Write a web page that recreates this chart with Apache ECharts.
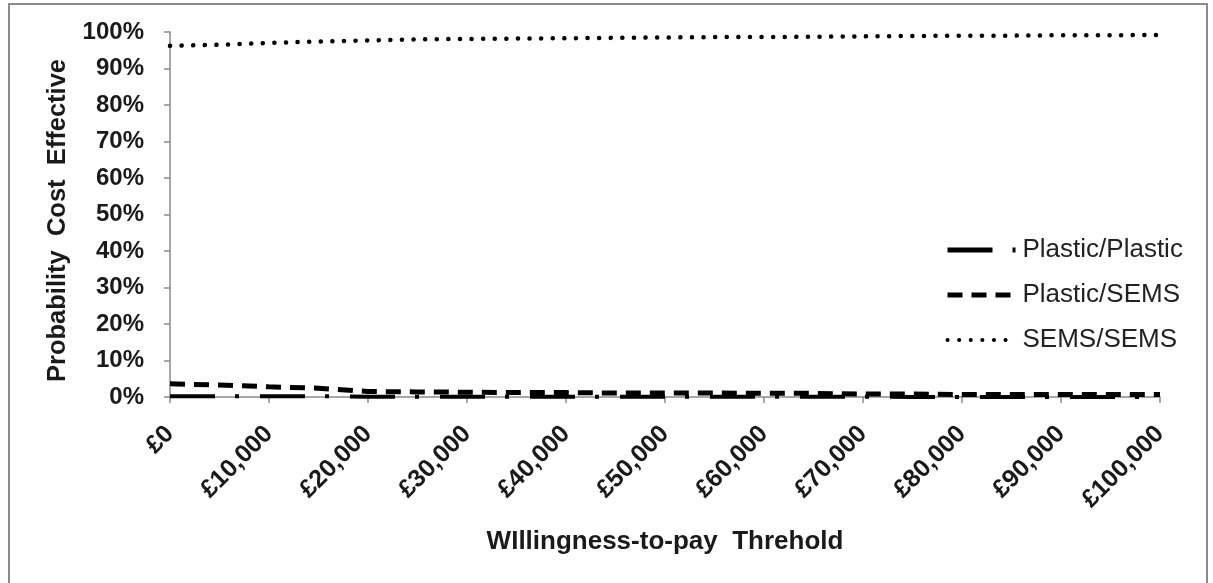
<!DOCTYPE html>
<html>
<head>
<meta charset="utf-8">
<script src="https://cdn.jsdelivr.net/npm/echarts@6/dist/echarts.min.js"></script>
<style>
html,body{margin:0;padding:0;background:#fff;}
#chart{width:1213px;height:583px;}
</style>
</head>
<body>
<div id="chart"></div>
<script>
const wtp = [0,5000,10000,15000,20000,25000,30000,35000,40000,45000,50000,55000,60000,65000,70000,75000,80000,85000,90000,95000,100000];
const plasticPlastic = [0.002,0.002,0.002,0.002,0.001,0.001,0.001,0.001,0.001,0.001,0.001,0.001,0.001,0.001,0.001,0.000,0.000,0.000,0.000,0.000,0.000];
const plasticSems = [0.036,0.033,0.028,0.024,0.015,0.014,0.013,0.012,0.012,0.011,0.011,0.011,0.010,0.010,0.008,0.008,0.007,0.007,0.007,0.007,0.007];
const semsSems = [0.962,0.965,0.970,0.974,0.977,0.980,0.981,0.982,0.983,0.984,0.985,0.986,0.986,0.987,0.988,0.989,0.990,0.990,0.991,0.991,0.992];
const seriesNames = ['Plastic/Plastic','Plastic/SEMS','SEMS/SEMS'];
const xTitle = 'WIllingness-to-pay  Threhold';
const yTitle = 'Probability  Cost  Effective';

const pair = (ys) => wtp.map((x, i) => [x, ys[i]]);

const styles = [
  { color: '#000', width: 4, type: [45, 20, 4, 21], cap: 'butt' },
  { color: '#000', width: 5, type: [15, 9], cap: 'butt' },
  { color: '#000', width: 4.5, type: [0.1, 11.5], cap: 'round' }
];

const chart = echarts.init(document.getElementById('chart'));
chart.setOption({
  animation: false,
  backgroundColor: '#ffffff',
  textStyle: { fontFamily: 'Liberation Sans, Arial, sans-serif' },
  graphic: [{
    type: 'rect',
    shape: { x: 9, y: 4, width: 1198, height: 620 },
    style: { fill: 'none', stroke: '#8a8a8a', lineWidth: 2 },
    silent: true
  }],
  grid: { left: 170, right: 53, top: 32, bottom: 186, containLabel: false },
  legend: {
    orient: 'vertical',
    left: 940,
    top: 232,
    itemWidth: 68,
    itemHeight: 24,
    itemGap: 19,
    itemStyle: { opacity: 0 },
    lineStyle: { width: 4.5 },
    textStyle: { fontSize: 26, color: '#222', fontFamily: 'Liberation Sans, Arial, sans-serif', padding: [0,0,0,2] },
    data: seriesNames.map((n, i) => ({ name: n, lineStyle: { width: i === 2 ? 4 : 5 } }))
  },
  xAxis: {
    type: 'value',
    min: 0, max: 100000, interval: 10000,
    name: xTitle,
    nameLocation: 'middle',
    nameGap: 132,
    nameTextStyle: { fontSize: 26, fontWeight: 'bold', color: '#1a1a1a' },
    axisLine: { show: true, lineStyle: { color: '#8a8a8a', width: 1.5 } },
    axisTick: { show: true, length: 6, lineStyle: { color: '#8a8a8a', width: 1.5 } },
    splitLine: { show: false },
    axisLabel: {
      rotate: 45,
      fontSize: 25,
      fontWeight: 'bold',
      color: '#1a1a1a',
      margin: 33,
      padding: [25, 0, 0, 0],
      formatter: (v) => '£' + v.toLocaleString('en-GB')
    }
  },
  yAxis: {
    type: 'value',
    min: 0, max: 1, interval: 0.1,
    name: yTitle,
    nameLocation: 'middle',
    nameGap: 99,
    nameTextStyle: { fontSize: 25.5, fontWeight: 'bold', color: '#1a1a1a', padding: [0, 12, 0, 0] },
    axisLine: { show: true, lineStyle: { color: '#8a8a8a', width: 1.5 } },
    axisTick: { show: true, length: 6, lineStyle: { color: '#8a8a8a', width: 1.5 } },
    splitLine: { show: false },
    axisLabel: {
      fontSize: 24,
      fontWeight: 'bold',
      color: '#1a1a1a',
      margin: 26,
      formatter: (v) => Math.round(v * 100) + '%'
    }
  },
  series: [
    { name: seriesNames[0], type: 'line', data: pair(plasticPlastic), symbol: 'none', lineStyle: styles[0], itemStyle: { color: '#000' } },
    { name: seriesNames[1], type: 'line', data: pair(plasticSems), symbol: 'none', lineStyle: styles[1], itemStyle: { color: '#000' } },
    { name: seriesNames[2], type: 'line', data: pair(semsSems), symbol: 'none', lineStyle: styles[2], itemStyle: { color: '#000' } }
  ]
});
</script>
</body>
</html>
